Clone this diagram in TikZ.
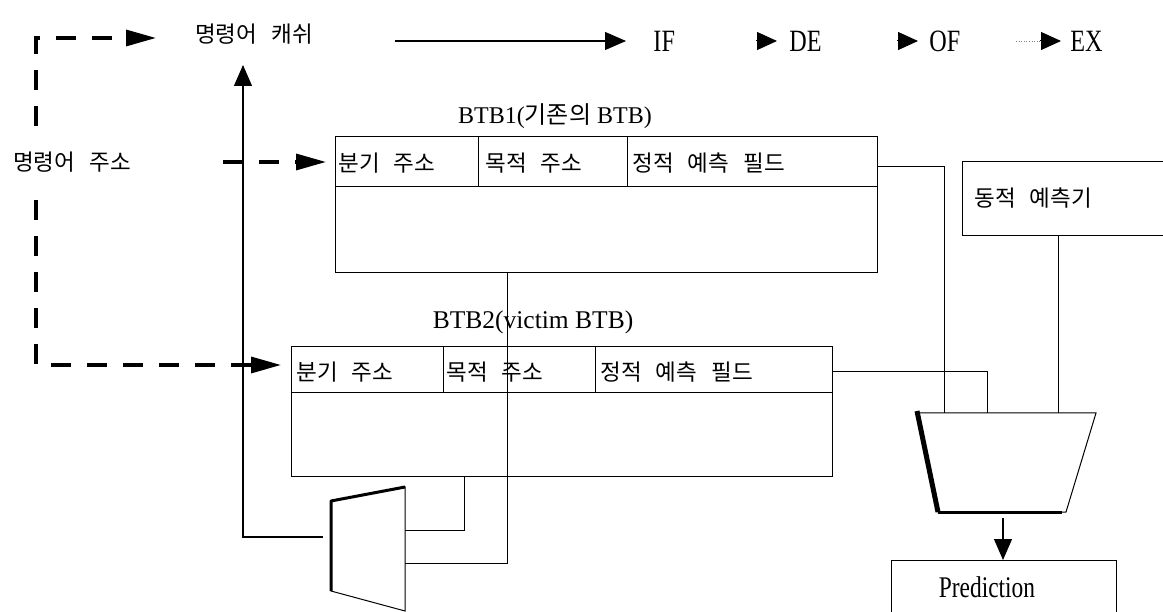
\documentclass[tikz,border=0pt]{standalone}
\usepackage{fontspec}
\setmainfont{Liberation Serif}
\newfontfamily\kr[WordSpace=2.8]{Noto Sans CJK KR}
\newfontfamily\cond[FakeStretch=0.78]{Liberation Serif}
\usetikzlibrary{arrows.meta}

\begin{document}
\begin{tikzpicture}[x=1pt,y=-1pt,
  line width=0.9pt,
  kt/.style={inner sep=0pt, font=\kr\fontsize{22.5}{26}\selectfont},
  tt/.style={inner sep=0pt, font=\fontsize{24}{28}\selectfont},
  pt/.style={inner sep=0pt, font=\cond\fontsize{31}{35}\selectfont},
  dashline/.style={line width=3.2pt, dash pattern=on 20pt off 16pt},
  dasharrow/.style={dashline, -{Triangle[length=30pt,width=16pt]}},
  solidarrow/.style={line width=1.1pt, -{Triangle[length=21pt,width=18pt]}},
  tiponly/.style={line width=1pt, -{Triangle[length=20pt,width=18pt]}},
  wire/.style={line width=1pt},
  boxnode/.style={draw, line width=1pt, inner sep=0pt}
]
\useasboundingbox (0,0) rectangle (1163,612);

% ---------- top row ----------
\node[kt] (cache) at (254,34) {명령어 캐쉬};
\node[kt] (addr) at (72,162) {명령어 주소};

\node[pt, anchor=west] (IF) at (653,41) {IF};
\node[pt, anchor=west] (DE) at (789,41) {DE};
\node[pt, anchor=west] (OF) at (929,41) {OF};
\node[pt, anchor=west] (EX) at (1070,41) {EX};

\coordinate (cacheOut) at (395,41);
\coordinate (ifIn) at (626,41);
\draw[solidarrow] (cacheOut) -- (ifIn);
\draw[tiponly] (756,41) -- (777,41);
\draw[tiponly] (897,41) -- (918,41);
\draw[line width=0.6pt, dotted, gray] (1016,41) -- (1040,41);
\draw[tiponly] (1040,41) -- (1061,41);

% ---------- BTB1 ----------
\node[tt] (t1) at (555,116) {BTB1({\kr 기존의} BTB)};
\node[boxnode, minimum width=542pt, minimum height=136pt] (btb1) at (606,205) {};
\draw[wire] (335,187) -- (877,187);
\draw[wire] (478,137) -- (478,187);
\draw[wire] (627,137) -- (627,187);
\node[kt, anchor=west] (b1a) at (338,163) {분기 주소};
\node[kt, anchor=west] (b1b) at (485,163) {목적 주소};
\node[kt, anchor=west] (b1c) at (632,163) {정적 예측 필드};

% ---------- BTB2 ----------
\node[tt, font=\fontsize{25.5}{29}\selectfont] (t2) at (533,322) {BTB2(victim BTB)};
\node[boxnode, minimum width=541pt, minimum height=129pt] (btb2) at (561.5,411.5) {};
\draw[wire] (291,393) -- (832,393);
\draw[wire] (443,347) -- (443,393);
\draw[wire] (595,347) -- (595,393);
\node[kt, anchor=west] (b2a) at (296,372) {분기 주소};
\node[kt, anchor=west] (b2b) at (446,372) {목적 주소};
\node[kt, anchor=west] (b2c) at (600,372) {정적 예측 필드};

% ---------- dynamic predictor ----------
\coordinate (dynTL) at (962,162);
\coordinate (dynBL) at (962,236);
\draw[wire] (1163,162) -- (dynTL) -- (dynBL) -- (1163,236);
\node[kt, anchor=west] (dyn) at (974,198) {동적 예측기};

% ---------- prediction box ----------
\draw[wire] (891,612) -- (891,560) -- (1116,560) -- (1116,612);
\node[font=\cond\fontsize{30}{34}\selectfont, inner sep=0pt] (pred) at (987,587) {Prediction};

% ---------- mux 1 (large) ----------
\coordinate (m1tl) at (919,413);
\coordinate (m1tr) at (1096,413);
\coordinate (m1br) at (1066,512);
\coordinate (m1bl) at (938,512);
\draw[wire] (m1tl) -- (m1tr) -- (m1br) -- (m1bl) -- cycle;
\draw[line width=5pt, line join=round] (917,411) -- (m1bl);
\draw[line width=3pt, line join=round] (m1bl) -- (1062,512);

% ---------- mux 2 (small) ----------
\coordinate (m2tl) at (331,501);
\coordinate (m2tr) at (405,487);
\coordinate (m2br) at (405,611);
\coordinate (m2bl) at (331,591);
\draw[wire] (m2tl) -- (m2tr) -- (m2br) -- (m2bl) -- cycle;
\draw[line width=3pt, line join=round] (m2bl) -- (m2tl) -- (m2tr);

% ---------- dashed address paths ----------
\coordinate (lt) at (36,126);
\coordinate (cacheIn) at (156,38);
\draw[dasharrow] (lt) |- (cacheIn);
\coordinate (lb) at (36,200);
\coordinate (b2in) at (281,365);
\draw[dasharrow] (lb) |- (b2in);
\coordinate (addrOut) at (223,162);
\coordinate (b1in) at (326,162);
\draw[dasharrow] (addrOut) -- (b1in);

% ---------- solid wires ----------
\coordinate (m2out) at (323,537);
\coordinate (cacheBot) at (243,65);
\draw[solidarrow] (m2out) -| (cacheBot);

\coordinate (b1bot) at (507,273);
\coordinate (m2in2) at (405,563);
\draw[wire] (b1bot) |- (m2in2);
\coordinate (b2bot) at (464,476);
\coordinate (m2in1) at (405,530);
\draw[wire] (b2bot) |- (m2in1);

\coordinate (b1r) at (877,167);
\coordinate (m1in1) at (944,413);
\draw[wire] (b1r) -| (m1in1);
\coordinate (b2r) at (832,372);
\coordinate (m1in2) at (987,413);
\draw[wire] (b2r) -| (m1in2);
\coordinate (dynOut) at (1058,236);
\coordinate (m1in3) at (1058,413);
\draw[wire] (dynOut) -- (m1in3);

\coordinate (m1out) at (1003,518);
\coordinate (predIn) at (1003,560);
\draw[solidarrow] (m1out) -- (predIn);
\end{tikzpicture}
\end{document}
